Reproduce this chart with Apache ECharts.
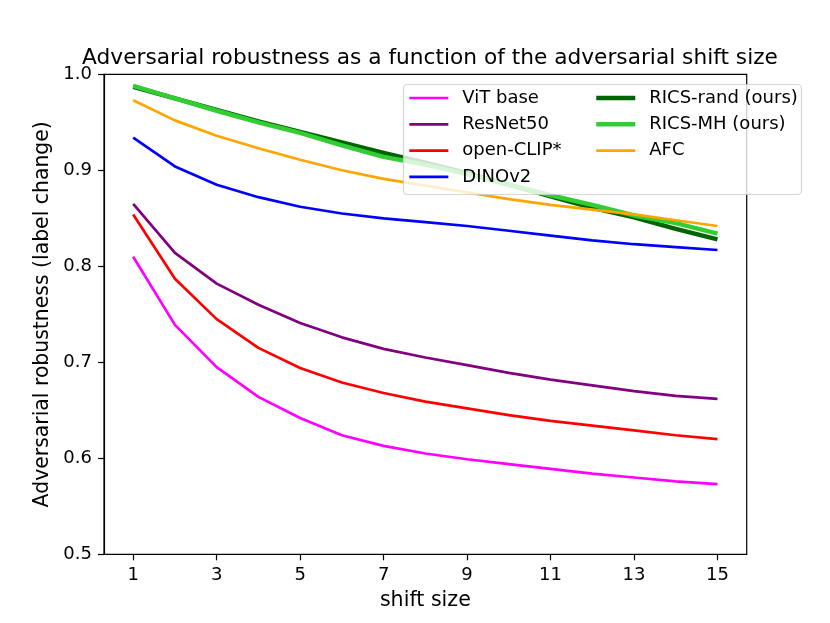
<!DOCTYPE html>
<html>
<head>
<meta charset="utf-8">
<script src="https://cdn.jsdelivr.net/npm/echarts@6/dist/echarts.min.js"></script>
<style>html,body{margin:0;padding:0;background:#fff}#c{width:830px;height:623px}</style>
</head>
<body>
<div id="c"></div>
<script>
const shifts = [1,2,3,4,5,6,7,8,9,10,11,12,13,14,15];
const xTicks = [1,3,5,7,9,11,13,15];
const yTicks = [0.5,0.6,0.7,0.8,0.9,1.0];
const vitBase   = [0.810,0.739,0.695,0.664,0.642,0.624,0.613,0.605,0.599,0.594,0.589,0.584,0.580,0.576,0.573];
const resnet50  = [0.865,0.814,0.782,0.760,0.741,0.726,0.714,0.705,0.697,0.689,0.682,0.676,0.670,0.665,0.662];
const openClip  = [0.854,0.787,0.745,0.715,0.694,0.679,0.668,0.659,0.652,0.645,0.639,0.634,0.629,0.624,0.620];
const dinov2    = [0.934,0.904,0.885,0.872,0.862,0.855,0.850,0.846,0.842,0.837,0.832,0.827,0.823,0.820,0.817];
const ricsRand  = [0.987,0.975,0.963,0.951,0.940,0.929,0.918,0.908,0.897,0.885,0.873,0.861,0.851,0.839,0.828];
const ricsMH    = [0.988,0.975,0.962,0.950,0.939,0.926,0.914,0.906,0.896,0.885,0.874,0.864,0.853,0.845,0.834];
const afc       = [0.973,0.952,0.936,0.923,0.911,0.900,0.891,0.884,0.877,0.870,0.864,0.859,0.854,0.848,0.842];

const seriesDefs = [
  {name:'ViT base', data:vitBase, color:'#ff00ff', w:2.7},
  {name:'ResNet50', data:resnet50, color:'#800080', w:2.7},
  {name:'open-CLIP*', data:openClip, color:'#ff0000', w:2.7},
  {name:'DINOv2', data:dinov2, color:'#0000ff', w:2.7},
  {name:'RICS-rand (ours)', data:ricsRand, color:'#006400', w:4.5},
  {name:'RICS-MH (ours)', data:ricsMH, color:'#32cd32', w:4.5},
  {name:'AFC', data:afc, color:'#ffa500', w:2.7}
];

const FONT = 'DejaVu Sans';
const chart = echarts.init(document.getElementById('c'), null, {renderer:'canvas'});

const legendCommon = {
  orient:'vertical', top:89, itemWidth:39, itemHeight:18, itemGap:8.3, padding:0,
  selectedMode:false, z:20,
  itemStyle:{opacity:0},
  textStyle:{fontFamily:FONT, fontSize:18, color:'#000', lineHeight:18, padding:[0,0,0,9]}
};
const legendItem = s => ({name:s.name, lineStyle:{width:s.w, color:s.color}, itemStyle:{opacity:0}});

chart.setOption({
  animation:false,
  backgroundColor:'#fff',
  title:{
    text:'Adversarial robustness as a function of the adversarial shift size',
    left:425, top:42, textAlign:'center',
    textStyle:{fontFamily:FONT, fontSize:21.7, fontWeight:'normal', color:'#000'}
  },
  graphic:[{
    type:'rect', z:15, silent:true,
    shape:{x:403.5, y:84.5, width:398, height:110, r:4},
    style:{fill:'rgba(255,255,255,0.8)', stroke:'rgba(204,204,204,0.8)', lineWidth:1.2}
  }],
  legend:[
    Object.assign({}, legendCommon, {left:408, data:seriesDefs.slice(0,4).map(legendItem)}),
    Object.assign({}, legendCommon, {left:594, data:seriesDefs.slice(4).map(legendItem)})
  ],
  grid:{left:104, right:83.3, top:74.3, bottom:68.7, show:true, borderColor:'#000', borderWidth:1.2, backgroundColor:'transparent'},
  xAxis:{
    type:'value', min:0.3, max:15.7,
    name:'shift size', nameLocation:'middle', nameGap:36,
    nameTextStyle:{fontFamily:FONT, fontSize:20.6, color:'#000'},
    axisLine:{show:true, lineStyle:{color:'#000', width:1.2}},
    axisTick:{show:true, length:6, lineStyle:{color:'#000', width:1.2}, customValues:xTicks},
    axisLabel:{fontFamily:FONT, fontSize:18, color:'#000', margin:12, customValues:xTicks},
    splitLine:{show:false}
  },
  yAxis:{
    type:'value', min:0.5, max:1.0, interval:0.1,
    name:'Adversarial robustness (label change)', nameLocation:'middle', nameGap:46,
    nameTextStyle:{fontFamily:FONT, fontSize:20.4, color:'#000'},
    axisLine:{show:true, lineStyle:{color:'#000', width:1.2}},
    axisTick:{show:true, length:6, lineStyle:{color:'#000', width:1.2}, customValues:yTicks},
    axisLabel:{fontFamily:FONT, fontSize:18, color:'#000', margin:12, customValues:yTicks,
      formatter:v=>v.toFixed(1)},
    splitLine:{show:false}
  },
  series: seriesDefs.map((s,i)=>({
    type:'line', name:s.name, symbol:'none', z:2+i*0.01,
    data: shifts.map((x,j)=>[x, s.data[j]]),
    lineStyle:{color:s.color, width:s.w, join:'round'},
    itemStyle:{color:s.color},
    emphasis:{disabled:true}
  }))
});
</script>
</body>
</html>
